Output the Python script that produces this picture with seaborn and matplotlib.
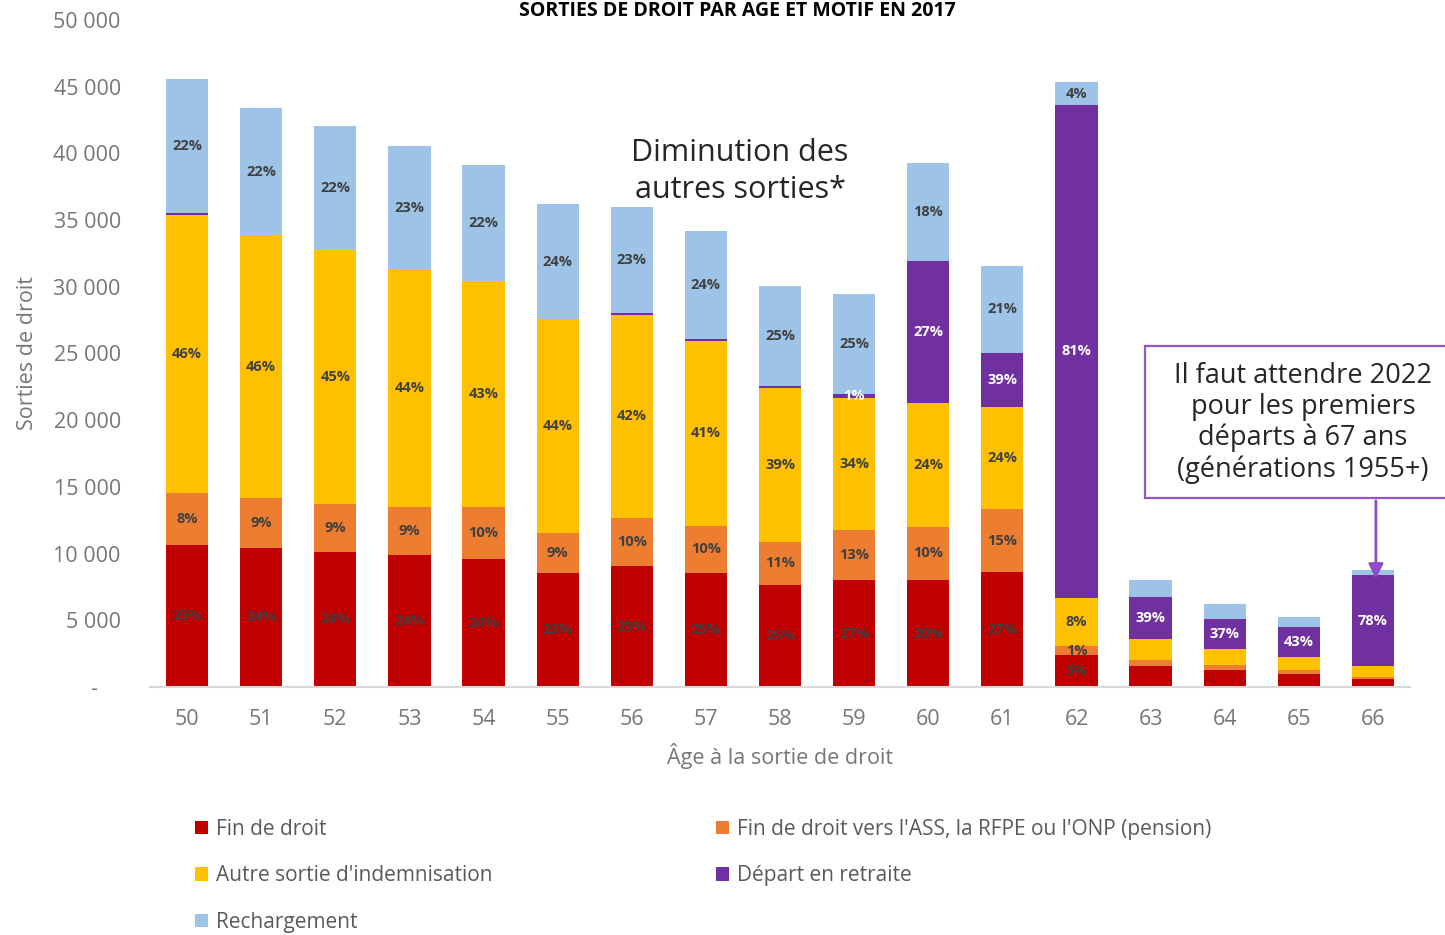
import matplotlib
matplotlib.use("Agg")
import matplotlib.pyplot as plt
import seaborn as sns
import pandas as pd
import numpy as np
from matplotlib.patches import Patch, Rectangle
from matplotlib.ticker import FuncFormatter

# ---------------- data ----------------
ages = [str(a) for a in range(50, 67)]
fin_droit = [10640, 10420, 10120, 9900, 9600, 8550, 9070, 8550, 7650, 8020, 8020, 8620, 2400, 1570, 1250, 970, 600]
fin_ass = [3900, 3750, 3600, 3590, 3890, 2990, 3600, 3520, 3220, 3750, 3980, 4720, 670, 480, 400, 300, 170]
autre_sortie = [20840, 19710, 19040, 17840, 16940, 16050, 15220, 13870, 11540, 9890, 9290, 7650, 3600, 1570, 1180, 960, 800]
retraite = [150, 0, 0, 0, 0, 0, 150, 150, 150, 300, 10640, 4050, 36960, 3150, 2270, 2290, 6800]
rechargement = [10050, 9520, 9290, 9220, 8700, 8610, 7940, 8090, 7500, 7500, 7350, 6520, 1720, 1280, 1120, 700, 400]

lab_fin_droit = ["23%", "24%", "24%", "24%", "24%", "23%", "25%", "25%", "25%", "27%", "20%", "27%", "5%", None, None, None, None]
lab_fin_ass = ["8%", "9%", "9%", "9%", "10%", "9%", "10%", "10%", "11%", "13%", "10%", "15%", "1%", None, None, None, None]
lab_autre = ["46%", "46%", "45%", "44%", "43%", "44%", "42%", "41%", "39%", "34%", "24%", "24%", "8%", None, None, None, None]
lab_retraite = [None, None, None, None, None, None, None, None, None, "1%", "27%", "39%", "81%", "39%", "37%", "43%", "78%"]
lab_recharg = ["22%", "22%", "22%", "23%", "22%", "24%", "23%", "24%", "25%", "25%", "18%", "21%", "4%", None, None, None, None]

series_names = ["Fin de droit",
                "Fin de droit vers l'ASS, la RFPE ou l'ONP (pension)",
                "Autre sortie d'indemnisation",
                "Départ en retraite",
                "Rechargement"]
colors = ["#C00000", "#ED7D31", "#FFC000", "#7030A0", "#9DC3E6"]
values = [fin_droit, fin_ass, autre_sortie, retraite, rechargement]
labels = [lab_fin_droit, lab_fin_ass, lab_autre, lab_retraite, lab_recharg]
label_colors = ["#404040", "#404040", "#404040", "#FFFFFF", "#404040"]

yticks = [0, 5000, 10000, 15000, 20000, 25000, 30000, 35000, 40000, 45000, 50000]

# ---------------- figure ----------------
sns.set_theme(style="white")
plt.rcParams['font.family'] = ['Open Sans', 'DejaVu Sans']

W, H = 1445, 935
fig = plt.figure(figsize=(W / 100, H / 100), dpi=100)
ax = fig.add_axes([150 / W, 1 - 687 / H, 1260 / W, 667 / H])

cums = []
tops = []
c = np.zeros(len(ages))
for v in values:
    cums.append(c.copy())
    c = c + np.array(v)
    tops.append(c.copy())

# draw from the top series down so each cumulative bar overlays the previous
for i in range(len(values) - 1, -1, -1):
    d = pd.DataFrame({"age": ages, "val": tops[i]})
    sns.barplot(data=d, x="age", y="val", order=ages, color=colors[i],
                saturation=1, width=0.57, linewidth=0, ax=ax)

# percentage labels
for i, (v, labs) in enumerate(zip(values, labels)):
    for j, lab in enumerate(labs):
        if lab is None:
            continue
        yc = cums[i][j] + v[j] / 2
        ax.text(j, yc, lab, ha="center", va="center", fontsize=10.5,
                fontweight="bold", color=label_colors[i])

ax.set_xlim(-0.5, 16.5)
ax.set_ylim(0, 50000)
ax.set_yticks(yticks)
ax.yaxis.set_major_formatter(FuncFormatter(
    lambda v, p: "-    " if v == 0 else f"{int(v):,}".replace(",", " ")))
ax.tick_params(axis="y", length=0, pad=21, labelsize=15.5, labelcolor="#767676")
ax.tick_params(axis="x", length=0, pad=16, labelsize=15.5, labelcolor="#767676")
for s in ["left", "right", "top"]:
    ax.spines[s].set_visible(False)
ax.spines["bottom"].set_color("#D9D9D9")
ax.spines["bottom"].set_linewidth(1.5)
ax.set_xlabel("Âge à la sortie de droit", fontsize=15.5, color="#767676", labelpad=9)
ax.set_ylabel("Sorties de droit", fontsize=15.5, color="#767676", labelpad=11)
ax.grid(False)

# title (kept fully visible at the very top)
fig.text(0.51, 1 - 1 / H, "SORTIES DE DROIT PAR AGE ET MOTIF EN 2017",
         ha="center", va="top", fontsize=14, fontweight="bold", color="black")

# annotation
fig.text(740 / W, 1 - 171.5 / H, "Diminution des\nautres sorties*", ha="center",
         va="center", fontsize=22, color="#262626", linespacing=1.34)

# box
rect = Rectangle((1145 / W, 1 - 498 / H), 330 / W, 152 / H, transform=fig.transFigure,
                 facecolor="white", edgecolor="#9457C8", linewidth=1.6, clip_on=False)
fig.add_artist(rect)
fig.text(1303 / W, 1 - 423 / H,
         "Il faut attendre 2022\npour les premiers\ndéparts à 67 ans\n(générations 1955+)",
         ha="center", va="center", fontsize=19.5, color="#262626", linespacing=1.14)
ax.annotate("", xy=(16.04, 7900), xytext=(16.04, 14170),
            arrowprops=dict(arrowstyle="-|>", color="#8E4ECB", lw=2, mutation_scale=22))

# legends
handles = [Patch(facecolor=colors[i], edgecolor="none") for i in range(5)]
leg_kw = dict(frameon=False, fontsize=15, handlelength=0.6, handleheight=0.6,
              handletextpad=0.4, labelspacing=1.22, borderpad=0, borderaxespad=0,
              labelcolor="#595959", loc="upper left")
leg1 = fig.legend([handles[0], handles[2], handles[4]],
                  [series_names[0], series_names[2], series_names[4]],
                  bbox_to_anchor=(195 / W, 1 - 819 / H), **leg_kw)
leg2 = fig.legend([handles[1], handles[3]], [series_names[1], series_names[3]],
                  bbox_to_anchor=(716 / W, 1 - 819 / H), **leg_kw)

fig.savefig("out.png", dpi=100)
